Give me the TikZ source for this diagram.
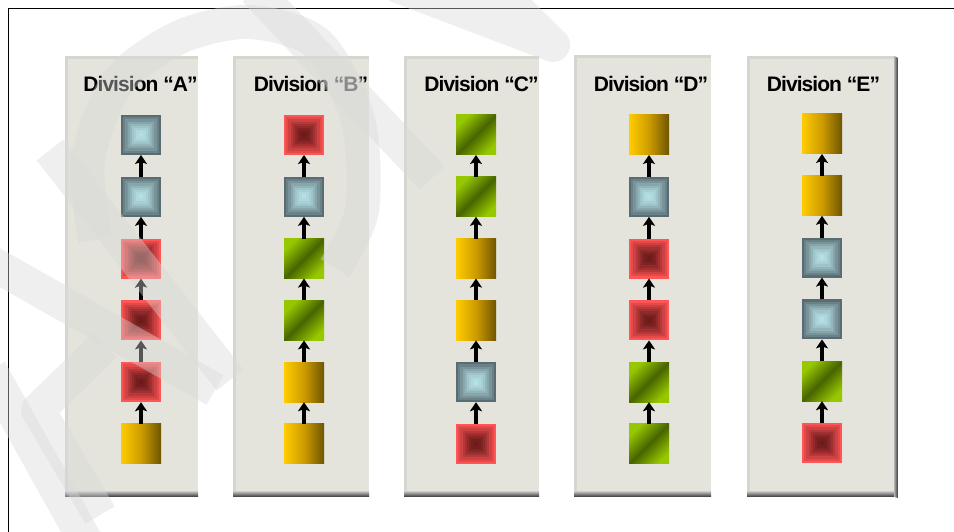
\documentclass[tikz,border=0pt]{standalone}
\usepackage{fontspec}
\newfontfamily\divfont[LetterSpace=-4.5]{Liberation Sans}
\usetikzlibrary{arrows.meta, positioning}

\definecolor{panelbg}{RGB}{228,227,220}
\definecolor{panelrim}{RGB}{214,214,208}
\definecolor{redE}{RGB}{255,85,85}
\definecolor{redC}{RGB}{105,25,25}
\definecolor{steelE}{RGB}{88,108,114}
\definecolor{steelC}{RGB}{182,226,230}
\definecolor{goldL}{RGB}{255,204,0}
\definecolor{goldM}{RGB}{205,155,0}
\definecolor{goldR}{RGB}{110,85,0}
\definecolor{grnL}{RGB}{150,200,0}
\definecolor{grnD}{RGB}{72,100,0}

% stepped pyramid fill: edge colour #1, centre colour #2
\tikzset{
  pyr/.style 2 args={fill=#1, path picture={
    \foreach \k/\p in {1/18, 2/34, 3/49, 4/62, 5/74, 6/84, 7/92, 8/98}
      \fill[#2!\p!#1]
        ([shift={(\k*2.2pt,\k*2.2pt)}]path picture bounding box.south west)
        rectangle ([shift={(-\k*2.2pt,-\k*2.2pt)}]path picture bounding box.north east);}}
}

\begin{document}
\begin{tikzpicture}[
    x=1pt, y=1pt,
    sq/.style={rectangle, minimum size=40pt, inner sep=0pt, outer sep=0pt, draw=none},
    steelsq/.style={sq, pyr={steelE}{steelC}},
    redsq/.style={sq, pyr={redE}{redC}},
    goldsq/.style={sq, left color=goldL, right color=goldR, middle color=goldM},
    greensq/.style={sq, top color=grnL, bottom color=grnL, middle color=grnD, shading angle=45},
    title/.style={font=\divfont\bfseries\fontsize{21}{24}\selectfont, anchor=base, inner sep=0pt},
    arr/.style={-{Stealth[length=9pt, width=12pt, inset=2pt]}, line width=3.5pt, black},
    wmark/.style={line width=34pt, black!15, draw opacity=0.4, line join=round},
    node distance=21.8pt
  ]
  \useasboundingbox (0,0) rectangle (954,532);
  \fill[white] (0,0) rectangle (954,532);
  \draw[line width=1pt] (8,0) -- (8,523) -- (954,523);

  % panels
  \foreach \xl/\xr/\yt in {65/198/476, 233/369/476, 404/539/476, 574/711/477, 747/894/476}{
    \fill[panelbg] (\xl,35) rectangle (\xr,\yt);
    \draw[panelrim, line width=3pt] (\xl+1.5,40) -- (\xl+1.5,\yt-1.5) -- (\xr,\yt-1.5);
    \shade[top color=gray!60, bottom color=black!80] (\xl,35) rectangle (\xr,40);
  }
  \shade[left color=gray!60, right color=black!80] (894,476) -- (898,474) -- (898,34) -- (894,35) -- cycle;

  \node[title] (tA) at (140.5,440) {Division “A”};
  \node[title] (tB) at (311,440)   {Division “B”};
  \node[title] (tC) at (481.5,440) {Division “C”};
  \node[title] (tD) at (651,440)   {Division “D”};
  \node[title] (tE) at (823.5,440) {Division “E”};

  % division A
  \node[steelsq]              (a1) at (141,397) {};
  \node[steelsq, below=of a1] (a2) {};
  \node[redsq,   below=of a2] (a3) {};
  \node[redsq,   below=of a3] (a4) {};
  \node[redsq,   below=of a4] (a5) {};
  \node[goldsq,  below=of a5] (a6) {};

  % division B
  \node[redsq]                (b1) at (304,397) {};
  \node[steelsq, below=of b1] (b2) {};
  \node[greensq, below=of b2] (b3) {};
  \node[greensq, below=of b3] (b4) {};
  \node[goldsq,  below=of b4] (b5) {};
  \node[goldsq,  below=of b5] (b6) {};

  % division C
  \node[greensq]              (c1) at (476,397) {};
  \node[greensq, below=of c1] (c2) {};
  \node[goldsq,  below=of c2] (c3) {};
  \node[goldsq,  below=of c3] (c4) {};
  \node[steelsq, below=of c4] (c5) {};
  \node[redsq,   below=of c5] (c6) {};

  % division D
  \node[goldsq]               (d1) at (649,397) {};
  \node[steelsq, below=of d1] (d2) {};
  \node[redsq,   below=of d2] (d3) {};
  \node[redsq,   below=of d3] (d4) {};
  \node[greensq, below=of d4] (d5) {};
  \node[greensq, below=of d5] (d6) {};

  % division E
  \node[goldsq]               (e1) at (822,398) {};
  \node[goldsq,  below=of e1] (e2) {};
  \node[steelsq, below=of e2] (e3) {};
  \node[steelsq, below=of e3] (e4) {};
  \node[greensq, below=of e4] (e5) {};
  \node[redsq,   below=of e5] (e6) {};

  \foreach \c in {a,b,c,d,e}
    \foreach \i/\j in {2/1, 3/2, 4/3, 5/4, 6/5}
      \draw[arr] (\c\i) -- (\c\j);

  % watermark
  \draw[wmark] plot[smooth] coordinates {(95,292) (88,372) (118,450) (180,495) (250,510) (318,488) (358,412) (362,322) (335,264)};
  \draw[wmark] (255,542) -- (432,354);
  \draw[wmark] (395,547) -- (553,487) -- (492,547);
  \draw[wmark] (50,382) -- (230,152);
  \draw[wmark] (-10,270) -- (215,142);
  \draw[wmark] (105,187) -- (38,122) -- (100,17);
  \draw[wmark] (-10,162) -- (85,-8);
\end{tikzpicture}
\end{document}
